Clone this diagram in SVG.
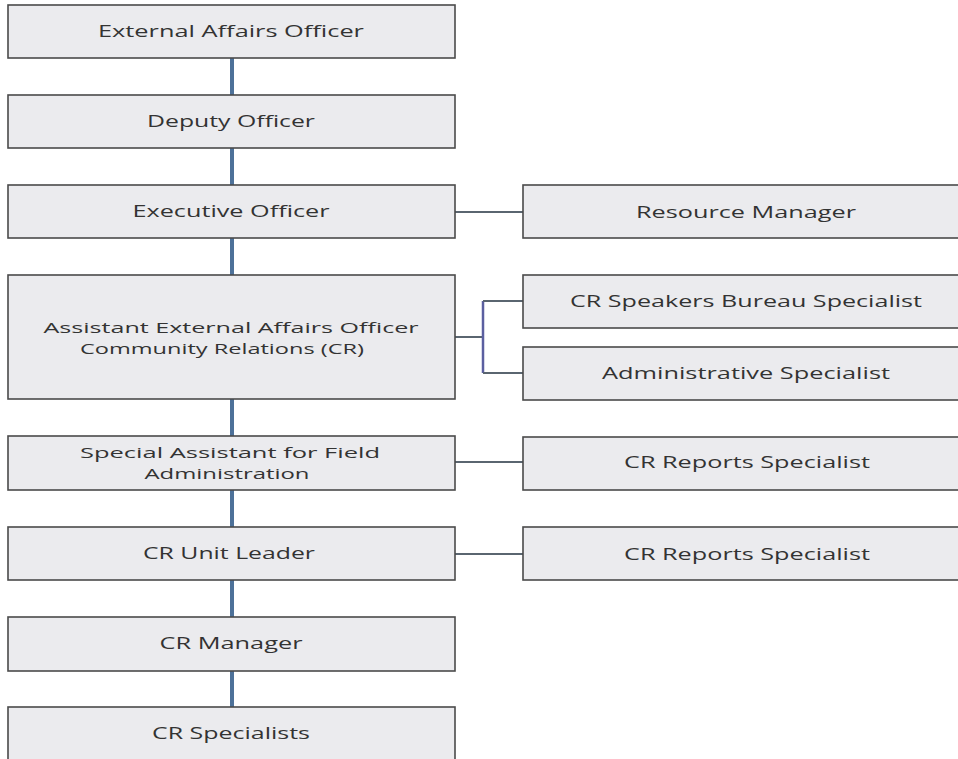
<svg xmlns="http://www.w3.org/2000/svg" width="958" height="759" viewBox="0 0 958 759">
<style>
.box{fill:#ebebee;stroke:#4a4a4a;stroke-width:1.6}
.t{font-family:"Open Sans","Liberation Sans",sans-serif;font-size:15.5px;fill:#333;text-anchor:middle;dominant-baseline:central}
.s{font-size:14.5px}
.v{stroke:#4d7199;stroke-width:4;fill:none}
.h{stroke:#5a6570;stroke-width:2;fill:none}
.b{stroke:#5b5fa0;stroke-width:2.5;fill:none}
</style>
<rect width="958" height="759" fill="#ffffff"/>
<g id="connectors">
<line class="v" x1="232" y1="58" x2="232" y2="95"/>
<line class="v" x1="232" y1="148" x2="232" y2="185"/>
<line class="v" x1="232" y1="238" x2="232" y2="275"/>
<line class="v" x1="232" y1="399" x2="232" y2="436"/>
<line class="v" x1="232" y1="490" x2="232" y2="527"/>
<line class="v" x1="232" y1="580" x2="232" y2="617"/>
<line class="v" x1="232" y1="671" x2="232" y2="707"/>
<line class="h" x1="455" y1="212" x2="523" y2="212"/>
<line class="h" x1="455" y1="337" x2="483" y2="337"/>
<line class="b" x1="483" y1="301" x2="483" y2="373"/>
<line class="h" x1="483" y1="301" x2="523" y2="301"/>
<line class="h" x1="483" y1="373" x2="523" y2="373"/>
<line class="h" x1="455" y1="462" x2="523" y2="462"/>
<line class="h" x1="455" y1="554" x2="523" y2="554"/>
</g>
<g id="n1"><rect class="box" x="8" y="5" width="447" height="53"/><text class="t" x="231" y="31" textLength="266" lengthAdjust="spacingAndGlyphs">External Affairs Officer</text></g>
<g id="n2"><rect class="box" x="8" y="95" width="447" height="53"/><text class="t" x="231" y="121" textLength="168" lengthAdjust="spacingAndGlyphs">Deputy Officer</text></g>
<g id="n3"><rect class="box" x="8" y="185" width="447" height="53"/><text class="t" x="231" y="211" textLength="197" lengthAdjust="spacingAndGlyphs">Executive Officer</text></g>
<g id="n4"><rect class="box" x="8" y="275" width="447" height="124"/><text class="t s" x="231" y="327" textLength="375" lengthAdjust="spacingAndGlyphs">Assistant External Affairs Officer</text><text class="t s" x="222" y="348" textLength="284" lengthAdjust="spacingAndGlyphs">Community Relations (CR)</text></g>
<g id="n5"><rect class="box" x="8" y="436" width="447" height="54"/><text class="t s" x="230" y="452" textLength="300" lengthAdjust="spacingAndGlyphs">Special Assistant for Field</text><text class="t s" x="227" y="473" textLength="165" lengthAdjust="spacingAndGlyphs">Administration</text></g>
<g id="n6"><rect class="box" x="8" y="527" width="447" height="53"/><text class="t" x="229" y="553" textLength="172" lengthAdjust="spacingAndGlyphs">CR Unit Leader</text></g>
<g id="n7"><rect class="box" x="8" y="617" width="447" height="54"/><text class="t" x="231" y="643" textLength="143" lengthAdjust="spacingAndGlyphs">CR Manager</text></g>
<g id="n8"><rect class="box" x="8" y="707" width="447" height="70"/><text class="t" x="231" y="733" textLength="158" lengthAdjust="spacingAndGlyphs">CR Specialists</text></g>
<g id="r1"><rect class="box" x="523" y="185" width="446" height="53"/><text class="t" x="746" y="212" textLength="220" lengthAdjust="spacingAndGlyphs">Resource Manager</text></g>
<g id="r2"><rect class="box" x="523" y="275" width="446" height="53"/><text class="t" x="746" y="301" textLength="352" lengthAdjust="spacingAndGlyphs">CR Speakers Bureau Specialist</text></g>
<g id="r3"><rect class="box" x="523" y="347" width="446" height="53"/><text class="t" x="746" y="373" textLength="288" lengthAdjust="spacingAndGlyphs">Administrative Specialist</text></g>
<g id="r4"><rect class="box" x="523" y="437" width="446" height="53"/><text class="t" x="747" y="462" textLength="246" lengthAdjust="spacingAndGlyphs">CR Reports Specialist</text></g>
<g id="r5"><rect class="box" x="523" y="527" width="446" height="53"/><text class="t" x="747" y="554" textLength="246" lengthAdjust="spacingAndGlyphs">CR Reports Specialist</text></g>
</svg>
